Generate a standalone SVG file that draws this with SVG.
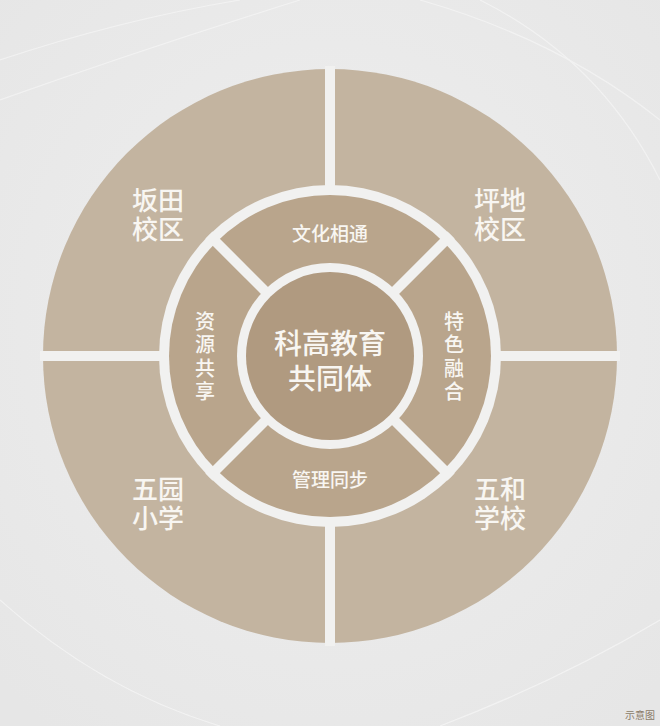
<svg xmlns="http://www.w3.org/2000/svg" width="660" height="726" viewBox="0 0 660 726">
  <defs>
    <style>
      .sep { fill: #f1f1f0; }
      .sepline { stroke: #f1f1f0; stroke-width: 10; stroke-linecap: butt; }
      .outer { fill: #c3b4a0; }
      .mid { fill: #b9a58c; }
      .core { fill: #b09a80; }
      .lbl { font-family: "Noto Sans CJK SC", "Noto Sans", sans-serif; fill: #f8f6f2; text-anchor: middle; }
      .big { font-size: 26px; font-weight: 500; }
      .ring { font-size: 19px; font-weight: 500; }
      .vert { font-size: 20px; font-weight: 500; }
      .ctr { font-size: 28px; font-weight: 500; }
      .note { font-family: "Noto Sans CJK SC", "Noto Sans", sans-serif; font-size: 10px; fill: #8a7b68; text-anchor: middle; }
    </style>
    <radialGradient id="bg" cx="50%" cy="45%" r="70%">
      <stop offset="0" stop-color="#efefef"/>
      <stop offset="1" stop-color="#e6e6e6"/>
    </radialGradient>
  </defs>

  <rect x="0" y="0" width="660" height="726" fill="url(#bg)"/>
  <g fill="none" stroke="#f6f6f6" stroke-width="1.2" opacity="0.7">
    <path d="M0 60 Q 120 20 240 0"/>
    <path d="M0 100 Q 140 50 300 0"/>
    <path d="M420 0 Q 560 40 660 120"/>
    <path d="M480 0 Q 600 60 660 180"/>
    <path d="M0 600 Q 100 690 220 726"/>
    <path d="M440 726 Q 560 680 660 620"/>
  </g>

  <g id="outer-ring">
    <circle class="outer" cx="330" cy="356" r="287"/>
    <rect class="sep" x="40" y="351" width="580" height="10"/>
    <rect class="sep" x="325" y="66" width="10" height="580"/>
    <circle class="sep" cx="330" cy="356" r="171"/>
  </g>

  <g id="node-bantian">
    <text class="lbl big"><tspan x="158" y="210">坂田</tspan><tspan x="158" y="239">校区</tspan></text>
  </g>
  <g id="node-pingdi">
    <text class="lbl big"><tspan x="500" y="210">坪地</tspan><tspan x="500" y="239">校区</tspan></text>
  </g>
  <g id="node-wuyuan">
    <text class="lbl big"><tspan x="158" y="499">五园</tspan><tspan x="158" y="528">小学</tspan></text>
  </g>
  <g id="node-wuhe">
    <text class="lbl big"><tspan x="500" y="499">五和</tspan><tspan x="500" y="528">学校</tspan></text>
  </g>

  <g id="middle-ring">
    <circle class="mid" cx="330" cy="356" r="161"/>
  </g>

  <g id="connectors">
    <line class="sepline" x1="266" y1="292" x2="209" y2="235"/>
    <line class="sepline" x1="394" y1="292" x2="451" y2="235"/>
    <line class="sepline" x1="266" y1="420" x2="209" y2="477"/>
    <line class="sepline" x1="394" y1="420" x2="451" y2="477"/>
  </g>

  <g id="node-culture">
    <text class="lbl ring" x="330" y="241">文化相通</text>
  </g>
  <g id="node-management">
    <text class="lbl ring" x="330" y="487">管理同步</text>
  </g>
  <g id="node-resources">
    <text class="lbl vert"><tspan x="205" y="329">资</tspan><tspan x="205" y="352">源</tspan><tspan x="205" y="376">共</tspan><tspan x="205" y="399">享</tspan></text>
  </g>
  <g id="node-features">
    <text class="lbl vert"><tspan x="454" y="329">特</tspan><tspan x="454" y="352">色</tspan><tspan x="454" y="376">融</tspan><tspan x="454" y="399">合</tspan></text>
  </g>

  <g id="node-center">
    <circle class="sep" cx="330" cy="356" r="93"/>
    <circle class="core" cx="330" cy="356" r="84"/>
    <text class="lbl ctr"><tspan x="330" y="354">科高教育</tspan><tspan x="330" y="389">共同体</tspan></text>
  </g>

  <text class="note" x="640" y="719">示意图</text>
</svg>
